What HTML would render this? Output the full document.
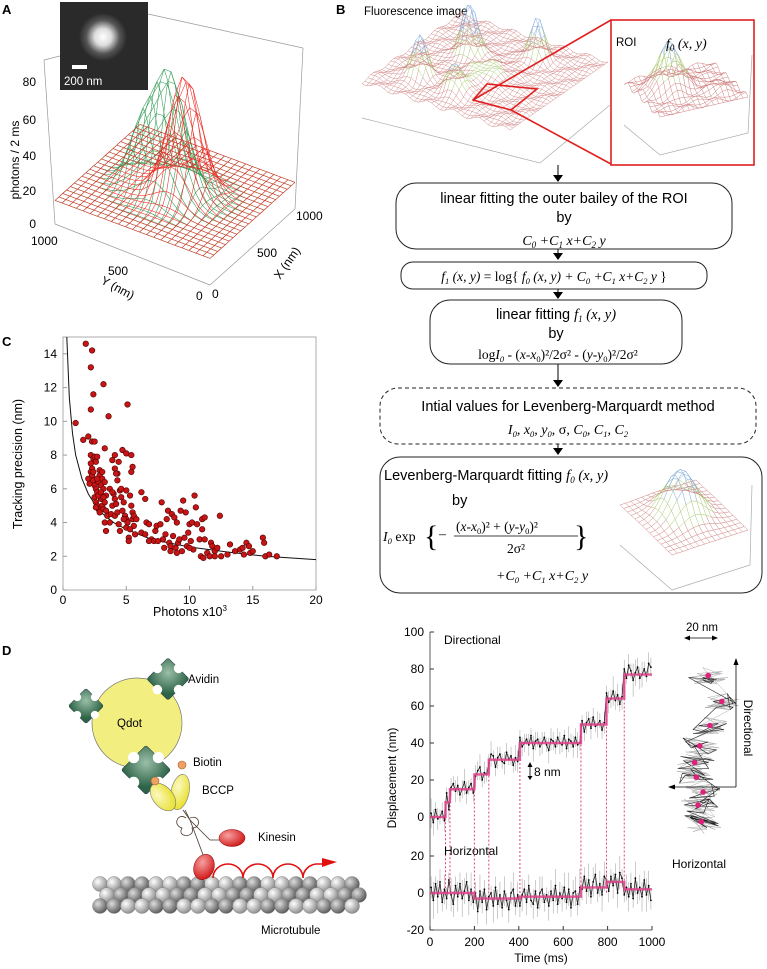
<!DOCTYPE html>
<html><head><meta charset="utf-8">
<style>
html,body{margin:0;padding:0;background:#fff;}
svg{display:block;font-family:"Liberation Sans",sans-serif;}
.serif{font-family:"Liberation Serif",serif;font-style:italic;}
.rm{font-family:"Liberation Serif",serif;}
</style></head>
<body>
<svg id="fig" width="767" height="969" viewBox="0 0 767 969" xmlns="http://www.w3.org/2000/svg">
<!-- ===== Panel A ===== -->
<g id="panelA">
  <text x="2" y="14" font-size="13" font-weight="bold">A</text>
  <g stroke="#999" stroke-width="0.7" fill="none">
    <line x1="44" y1="60" x2="55" y2="224"/>
    <line x1="55" y1="224" x2="210" y2="285"/>
    <line x1="210" y1="285" x2="295" y2="209"/>
    <line x1="303" y1="48" x2="295" y2="209"/>
    <line x1="148" y1="14" x2="303" y2="48"/>
    <line x1="44" y1="60" x2="60" y2="56"/>
  </g>
  <g id="aTicks" stroke="#666" stroke-width="0.7"></g>
  <g id="meshA" fill="none" stroke-width="0.55"></g>
  <g font-size="12" text-anchor="end">
    <text x="36" y="86">80</text><text x="36" y="124">60</text><text x="36" y="160">40</text><text x="36" y="195">20</text><text x="36" y="228">0</text>
  </g>
  <text transform="translate(19,160) rotate(-90)" font-size="12" text-anchor="middle">photons /  2 ms</text>
  <text x="31" y="245" font-size="12">1000</text>
  <text x="108" y="275" font-size="12">500</text>
  <text x="196" y="300" font-size="12">0</text>
  <text x="212" y="298" font-size="12">0</text>
  <text x="257" y="257" font-size="12">500</text>
  <text x="296" y="220" font-size="12">1000</text>
  <text transform="translate(100,283) rotate(28)" font-size="12">Y (nm)</text>
  <text transform="translate(280,280) rotate(-55)" font-size="12">X (nm)</text>
  <g>
    <defs><radialGradient id="spot" cx="0.5" cy="0.5" r="0.5">
      <stop offset="0" stop-color="#fff"/><stop offset="0.35" stop-color="#ddd"/><stop offset="0.7" stop-color="#555"/><stop offset="1" stop-color="#2a2a2a"/></radialGradient></defs>
    <rect x="60" y="2" width="88" height="88" fill="#2a2a2a"/>
    <circle cx="103" cy="37" r="24" fill="url(#spot)"/>
    <rect x="72" y="65" width="15" height="4" fill="#fff"/>
    <text x="64" y="85" font-size="11.5" fill="#fff">200 nm</text>
  </g>
</g>

<!-- ===== Panel B ===== -->
<g id="panelB">
  <text x="336" y="14" font-size="13" font-weight="bold">B</text>
  <text x="364" y="15" font-size="11.5">Fluorescence image</text>
  <polyline points="362,118 540,163 610,105" fill="none" stroke="#aaa" stroke-width="0.7"/>
  <g id="meshB" fill="none" stroke-width="0.45"></g>
  <g stroke="#e02020" stroke-width="1.6" fill="none">
    <polygon points="473,100 487,84 537,89 511,110"/>
    <line x1="473" y1="100" x2="611" y2="20"/>
    <line x1="511" y1="110" x2="611" y2="164"/>
    <rect x="611" y="20" width="143" height="145" fill="#fff"/>
  </g>
  <polyline points="624,125 660,155 748,133 752,55" fill="none" stroke="#aaa" stroke-width="0.7"/>
  <g id="meshROI" fill="none" stroke-width="0.5"></g>
  <text x="616" y="46" font-size="11.5">ROI</text>
  <text x="666" y="48" font-size="14" class="serif">f<tspan font-size="9" dy="3">0</tspan><tspan dy="-3"> (x, y)</tspan></text>

  <g fill="#000">
    <line x1="558" y1="165" x2="558" y2="178" stroke="#000"/><polygon points="553,175 563,175 558,182"/>
    <line x1="558" y1="249" x2="558" y2="255" stroke="#000"/><polygon points="553,253 563,253 558,260"/>
    <line x1="558" y1="289" x2="558" y2="294" stroke="#000"/><polygon points="553,292 563,292 558,299"/>
    <line x1="558" y1="364" x2="558" y2="380" stroke="#000"/><polygon points="553,380 563,380 558,387"/>
    <line x1="558" y1="444" x2="558" y2="448" stroke="#000"/><polygon points="553,448 563,448 558,455"/>
  </g>
  <g fill="none" stroke="#222" stroke-width="1">
    <rect x="396" y="183" width="336" height="66" rx="20"/>
    <rect x="401" y="262" width="306" height="27" rx="12"/>
    <rect x="430" y="300" width="252" height="64" rx="20"/>
    <rect x="380" y="388" width="376" height="56" rx="18" stroke-dasharray="4,3"/>
    <rect x="380" y="457" width="382" height="136" rx="20"/>
  </g>
  <g text-anchor="middle" font-size="14.5">
    <text x="564" y="203">linear fitting  the outer bailey of the ROI</text>
    <text x="564" y="222">by</text>
    <text x="564" y="245" class="serif" font-size="14">C<tspan font-size="9" dy="3">0</tspan><tspan dy="-3"> +C</tspan><tspan font-size="9" dy="3">1</tspan><tspan dy="-3"> x+C</tspan><tspan font-size="9" dy="3">2</tspan><tspan dy="-3"> y</tspan></text>
    <text x="554" y="281" class="serif" font-size="13.5">f<tspan font-size="8.5" dy="3">1</tspan><tspan dy="-3"> (x, y) </tspan><tspan font-style="normal">= log{ </tspan>f<tspan font-size="8.5" dy="3">0</tspan><tspan dy="-3"> (x, y) + C</tspan><tspan font-size="8.5" dy="3">0</tspan><tspan dy="-3"> +C</tspan><tspan font-size="8.5" dy="3">1</tspan><tspan dy="-3"> x+C</tspan><tspan font-size="8.5" dy="3">2</tspan><tspan dy="-3"> y </tspan><tspan font-style="normal">}</tspan></text>
    <text x="556" y="319">linear fitting <tspan class="serif">f</tspan><tspan class="serif" font-size="9" dy="3">1</tspan><tspan class="serif" dy="-3"> (x, y)</tspan></text>
    <text x="556" y="338">by</text>
    <text x="558" y="359" class="rm" font-size="13.5">log<tspan font-style="italic">I</tspan><tspan font-size="8.5" dy="3" font-style="italic">0</tspan><tspan dy="-3"> - (</tspan><tspan font-style="italic">x-x</tspan><tspan font-size="8.5" dy="3">0</tspan><tspan dy="-3">)²/2σ² - (</tspan><tspan font-style="italic">y-y</tspan><tspan font-size="8.5" dy="3">0</tspan><tspan dy="-3">)²/2σ²</tspan></text>
    <text x="568" y="411">Intial values for Levenberg-Marquardt method</text>
    <text x="568" y="434" class="serif" font-size="14">I<tspan font-size="8.5" dy="3">0</tspan><tspan dy="-3">, x</tspan><tspan font-size="8.5" dy="3">0</tspan><tspan dy="-3">, y</tspan><tspan font-size="8.5" dy="3">0</tspan><tspan dy="-3" font-style="normal">, σ, </tspan><tspan dy="0">C</tspan><tspan font-size="8.5" dy="3">0</tspan><tspan dy="-3">, C</tspan><tspan font-size="8.5" dy="3">1</tspan><tspan dy="-3">, C</tspan><tspan font-size="8.5" dy="3">2</tspan></text>
  </g>
  <text x="384" y="480" font-size="14.5">Levenberg-Marquardt fitting <tspan class="serif">f</tspan><tspan class="serif" font-size="9" dy="3">0</tspan><tspan class="serif" dy="-3"> (x, y)</tspan></text>
  <text x="452" y="505" font-size="14.5">by</text>
  <text x="383" y="541" class="rm" font-size="14"><tspan font-style="italic">I</tspan><tspan font-size="8.5" dy="3" font-style="italic">0</tspan><tspan dy="-3"> exp</tspan></text>
  <text x="424" y="546" class="rm" font-size="30" font-weight="normal">{</text>
  <text x="439" y="538" class="rm" font-size="14">–</text>
  <text x="456" y="531" class="rm" font-size="13.5">(<tspan font-style="italic">x-x</tspan><tspan font-size="8.5" dy="3">0</tspan><tspan dy="-3">)² + (</tspan><tspan font-style="italic">y-y</tspan><tspan font-size="8.5" dy="3">0</tspan><tspan dy="-3">)²</tspan></text>
  <line x1="454" y1="536" x2="578" y2="536" stroke="#000" stroke-width="0.8"/>
  <text x="516" y="553" class="rm" font-size="13.5" text-anchor="middle">2σ²</text>
  <text x="574" y="546" class="rm" font-size="30">}</text>
  <text x="496" y="580" class="serif" font-size="14">+C<tspan font-size="8.5" dy="3">0</tspan><tspan dy="-3"> +C</tspan><tspan font-size="8.5" dy="3">1</tspan><tspan dy="-3"> x+C</tspan><tspan font-size="8.5" dy="3">2</tspan><tspan dy="-3"> y</tspan></text>
  <polyline points="620,545 672,590 750,565 752,485" fill="none" stroke="#aaa" stroke-width="0.7"/>
  <g id="meshFit" fill="none" stroke-width="0.5"></g>
</g>

<!-- ===== Panel C ===== -->
<g id="panelC">
  <text x="2" y="346" font-size="13" font-weight="bold">C</text>
  <rect x="63" y="337" width="253" height="253" fill="none" stroke="#999" stroke-width="0.8"/>
  <g id="cAxes" font-size="12"></g>
  <g id="cCurve"></g>
  <g id="cDots"></g>
  <text transform="translate(22,464) rotate(-90)" font-size="12.5" text-anchor="middle">Tracking precision (nm)</text>
  <text x="190" y="616" font-size="12.5" text-anchor="middle">Photons x10<tspan font-size="8" dy="-5">3</tspan></text>
</g>

<!-- ===== Panel D cartoon ===== -->
<g id="panelD">
  <text x="2" y="655" font-size="13" font-weight="bold">D</text>
  <defs>
    <radialGradient id="grn" cx="0.35" cy="0.35" r="0.7"><stop offset="0" stop-color="#9bbfa8"/><stop offset="1" stop-color="#2d6447"/></radialGradient>
    <radialGradient id="ball" cx="0.35" cy="0.35" r="0.7"><stop offset="0" stop-color="#fff"/><stop offset="1" stop-color="#888"/></radialGradient>
    <radialGradient id="ballD" cx="0.35" cy="0.35" r="0.7"><stop offset="0" stop-color="#ddd"/><stop offset="1" stop-color="#555"/></radialGradient>
    <radialGradient id="redg" cx="0.35" cy="0.35" r="0.7"><stop offset="0" stop-color="#f8a0a0"/><stop offset="1" stop-color="#d01818"/></radialGradient>
    <radialGradient id="yel" cx="0.35" cy="0.35" r="0.7"><stop offset="0" stop-color="#fbf9c0"/><stop offset="1" stop-color="#e8e030"/></radialGradient>
  </defs>
  <g id="mt"></g>
  <circle cx="137" cy="723" r="45" fill="#f2ef80" stroke="#777" stroke-width="0.7"/>
  <g id="avidins"></g>
  <ellipse cx="180" cy="792" rx="9" ry="18" transform="rotate(12 180 792)" fill="url(#yel)" stroke="#777" stroke-width="0.6"/>
  <ellipse cx="163" cy="797" rx="10" ry="16" transform="rotate(-40 163 797)" fill="url(#yel)" stroke="#777" stroke-width="0.6"/>
  <circle cx="182" cy="765" r="4" fill="#f0a060" stroke="#a0603a" stroke-width="0.6"/>
  <circle cx="155" cy="781" r="4" fill="#f0a060" stroke="#a0603a" stroke-width="0.6"/>
  <g fill="none" stroke="#4a3a30" stroke-width="0.8">
    <path d="M185,810 L190,820 L210,840 L222,840"/>
    <path d="M183,810 L190,820 L205,860"/>
    <path d="M186,818 C178,812 172,825 182,828 C176,838 196,838 192,828 C202,828 200,814 190,818"/>
  </g>
  <ellipse cx="232" cy="838" rx="13" ry="8.5" fill="url(#redg)" stroke="#800" stroke-width="0.5"/>
  <ellipse cx="204" cy="867" rx="10" ry="13" transform="rotate(20 204 867)" fill="url(#redg)" stroke="#800" stroke-width="0.5"/>
  <path d="M213,878 A15,14 0 0 1 243,878 A15,14 0 0 1 273,878 A15,14 0 0 1 303,878 A15,14 0 0 1 316,864 L325,864" fill="none" stroke="#e01010" stroke-width="1.6"/>
  <polygon points="322,858 337,862 322,867" fill="#e01010"/>
  <g font-size="11.5">
    <text x="188" y="683">Avidin</text>
    <text x="117" y="727">Qdot</text>
    <text x="193" y="766">Biotin</text>
    <text x="202" y="794">BCCP</text>
    <text x="258" y="841">Kinesin</text>
    <text x="261" y="934">Microtubule</text>
  </g>
</g>

<!-- ===== Panel D trace ===== -->
<g id="panelTrace">
  <g id="tAxes" font-size="12"></g>
  <g id="tDots"></g>
  <g id="tSteps"></g>
  <text transform="translate(396,778) rotate(-90)" font-size="12" text-anchor="middle">Displacement (nm)</text>
  <text x="541" y="962" font-size="12" text-anchor="middle">Time (ms)</text>
  <text x="444" y="644" font-size="12">Directional</text>
  <text x="444" y="855" font-size="12">Horizontal</text>
  <g>
    <line x1="530" y1="766" x2="530" y2="776" stroke="#000" stroke-width="0.8"/>
    <polygon points="527.5,767 532.5,767 530,762" /><polygon points="527.5,776 532.5,776 530,780"/>
    <text x="534" y="776" font-size="12">8 nm</text>
  </g>
  <g id="traj"></g>
  <text x="686" y="631" font-size="11.5">20 nm</text>
  <g stroke="#000" stroke-width="0.8">
    <line x1="687" y1="638" x2="715" y2="638"/>
    <line x1="736" y1="787" x2="672" y2="787"/>
    <line x1="736" y1="787" x2="736" y2="663"/>
  </g>
  <polygon points="684,638 690,635.5 690,640.5"/><polygon points="718,638 712,635.5 712,640.5"/>
  <polygon points="668,787 675,784.5 675,789.5"/><polygon points="736,658 733.5,665 738.5,665"/>
  <text transform="translate(744,728) rotate(90)" font-size="12" text-anchor="middle">Directional</text>
  <text x="672" y="868" font-size="12">Horizontal</text>
</g>
</svg>

<script>
// ---------- Panel C data ----------
const photonsK = [1.8,2.3,2.2,3.2,2.4,5.1,2.2,3.6,1.0,1.6,2.0,2.3,2.5,3.3,4.7,5.0,5.4,4.1,4.4,3.9,5.5,5.4,4.1,4.3,4.3,
2.0,2.1,2.2,2.2,2.3,2.2,2.4,2.5,2.6,2.7,2.3,2.4,2.5,2.6,2.7,2.8,2.9,3.0,3.1,3.2,3.3,3.4,2.5,2.6,2.7,2.8,2.9,3.0,3.1,3.2,3.3,3.4,3.5,2.6,2.8,3.0,3.2,2.4,2.9,3.1,2.7,3.3,3.4,
3.7,3.8,3.9,4.0,4.1,4.2,4.3,4.4,4.5,4.5,4.6,4.7,4.8,4.9,5.0,5.0,5.1,5.2,5.2,5.3,5.4,5.5,5.5,5.6,5.6,5.7,5.8,4.2,4.6,3.7,3.9,4.1,4.8,5.0,5.3,
6.2,6.5,6.2,6.5,6.6,6.8,7.0,7.2,7.3,7.4,7.7,7.8,7.9,8.0,8.1,8.2,8.3,8.4,8.5,8.6,8.7,8.8,8.9,9.0,9.1,9.2,9.3,9.4,9.5,9.6,9.7,9.8,9.9,10.0,10.1,10.2,10.3,10.4,10.5,10.6,10.8,10.9,11.0,11.0,11.1,11.2,11.2,11.4,11.6,11.7,11.8,12.0,12.2,12.4,
12.5,13.0,13.2,13.6,14.0,14.2,14.3,14.5,14.7,14.8,15.0,15.8,15.9,16.0,16.3,16.9,12.0,8.5,9.0,7.5,10.0,6.8];
const precisionNm = [14.6,14.2,13.2,12.2,11.6,11.0,10.7,10.3,9.9,8.9,9.1,8.8,8.8,8.4,8.3,8.1,8.0,8.0,7.6,7.7,7.3,7.0,7.2,6.9,6.5,
6.6,6.3,8.0,7.5,7.2,7.0,7.8,7.9,7.6,7.9,6.8,6.5,6.2,6.0,5.8,6.4,6.8,6.2,6.6,6.0,6.4,5.6,5.5,5.2,5.0,4.8,4.6,5.4,5.0,4.8,5.2,4.7,4.4,4.9,5.6,5.8,5.5,7.0,7.1,7.0,6.6,4.0,3.5,
4.0,4.5,5.0,5.7,4.4,5.1,4.6,3.9,3.5,5.9,5.5,4.7,5.2,4.4,5.9,4.2,4.0,3.1,2.9,5.6,5.0,4.6,4.2,3.8,4.4,3.3,4.2,6.9,6.0,6.0,5.8,5.4,4.2,3.7,3.6,
5.8,5.4,3.4,3.3,4.0,3.9,3.0,2.9,3.5,3.8,3.9,5.2,3.0,2.5,3.3,4.2,4.7,2.8,2.6,4.5,3.2,4.3,2.5,4.0,2.8,3.0,4.7,2.3,5.3,3.1,4.6,2.6,3.4,3.9,2.9,4.0,2.4,5.6,4.9,3.9,3.0,2.0,4.2,3.6,1.9,4.3,3.0,2.2,2.0,2.8,2.6,2.3,2.5,4.4,
2.0,2.1,2.7,2.3,2.4,2.5,2.1,2.8,2.6,2.2,2.3,3.1,2.8,2.0,2.1,2.0,2.0,2.3,2.2,2.9,2.5,2.9];
const fitX = [0.3,0.5,0.75,1.0,1.5,2.0,2.5,3.0,4.0,5.0,7.0,10.0,13.0,16.0,20.0];
const fitY = [15.0,11.4,9.3,8.0,6.6,5.7,5.1,4.6,4.0,3.6,3.0,2.55,2.25,2.0,1.8];
const cXTicks = [0,5,10,15,20];
const cYTicks = [0,2,4,6,8,10,12,14];

// ---------- Trace data ----------
const stepTimes = [0,70,90,200,265,405,680,795,875,1000];
const dirLevels = [0,8,15,23,31,40,50,64,77];
const horLevels = [0,0,0,-3,-3,-2,3,6,2];
const dirNoise = [2,-3,4,-1,0,3,-2,5,-4,1,3,-1,2,-3,0,4,-2,1,3,-2,-1,2,4,-3,1,0,-2,3,2,-4,1,3,-1,-2,4,0,2,-3,1,-1,3,-2,0,2,-1,4,-3,1,2,-2,0,3,-1,-4,2,1,-2,3,0,-1,4,-3,2,1,-2,3,-1,0,2,-4,1,3,-2,4,-1,0,2,-3,1,3,-2,0,4,-1,2,-3,1,3,-2,5,2,-3,1,4,-2,0,3,-1,6,4];
const horNoise = [3,-4,5,-2,6,-5,2,-3,7,-1,-6,4,-2,5,-3,1,6,-4,2,-5,3,-7,4,-2,5,-6,1,3,-4,6,-3,2,-5,4,-1,-6,3,5,-4,2,-5,1,4,-3,6,-2,-4,3,-6,2,4,-3,1,-5,3,-2,6,-4,2,-1,5,-3,4,-6,2,3,-4,5,-1,6,-2,4,-5,3,7,-3,2,-4,6,1,-5,3,-2,4,-6,5,2,-3,1,-4,3,-5,6,-2,1,-4,5,-3,2,-6];
const tXTicks = [0,200,400,600,800,1000];
const dirYTicks = [0,20,40,60,80,100];
const horYTicks = [-20,0,20];
const trajDwellX = [6,14,7,1,-2,-1,3,0,2];
const trajDwellY = [77,63,50,39,30,22,14,7,-2];

const NS = "http://www.w3.org/2000/svg";
function mk(tag, attrs, parent){ const e=document.createElementNS(NS,tag); for(const k in attrs) e.setAttribute(k,attrs[k]); parent.appendChild(e); return e; }

// ---------- Panel C ----------
const cx = v => 63 + v/20*253;
const cy = v => 590 - v/15*253;
(function(){
  const ax = document.getElementById('cAxes');
  cXTicks.forEach(t=>{
    const l=mk('line',{x1:cx(t),x2:cx(t),y1:590,y2:586,stroke:'#999'},ax);
    
    
    const tx=mk('text',{x:cx(t),y:604,'text-anchor':'middle'},ax); tx.textContent=t;
    
    
  });
  cYTicks.forEach(t=>{
    const l=mk('line',{x1:63,x2:67,y1:cy(t),y2:cy(t),stroke:'#999'},ax);
    
    
    const tx=mk('text',{x:57,y:cy(t)+4,'text-anchor':'end'},ax); tx.textContent=t;
    
    
  });
  const pts = fitX.map((x,i)=>cx(x)+','+cy(fitY[i])).join(' ');
  const pl = mk('polyline',{points:pts,fill:'none',stroke:'#111','stroke-width':1},document.getElementById('cCurve'));
  
  
  const dg = document.getElementById('cDots');
  photonsK.forEach((x,i)=>{
    const c=mk('circle',{cx:cx(x),cy:cy(precisionNm[i]),r:2.8,fill:'#c81414',stroke:'#4a0000','stroke-width':0.6},dg);
    
    
  });
})();

// ---------- Trace ----------
const tx = t => 430 + t/1000*222;
const tyD = v => 817 - v*1.85;
const tyH = v => 893 - v*1.85;
function levelAt(levels,t){ let k=0; for(let i=0;i<stepTimes.length-1;i++){ if(t>=stepTimes[i]) k=i; } return levels[k]; }
(function(){
  const ax = document.getElementById('tAxes');
  mk('line',{x1:430,x2:430,y1:632,y2:930,stroke:'#333','stroke-width':0.8},ax);
  mk('line',{x1:430,x2:652,y1:930,y2:930,stroke:'#333','stroke-width':0.8},ax);
  tXTicks.forEach(t=>{
    const l=mk('line',{x1:tx(t),x2:tx(t),y1:930,y2:926,stroke:'#333'},ax);
    
    
    const s=mk('text',{x:tx(t),y:946,'text-anchor':'middle'},ax); s.textContent=t;
    
    
  });
  dirYTicks.forEach(t=>{
    const l=mk('line',{x1:430,x2:434,y1:tyD(t),y2:tyD(t),stroke:'#333'},ax);
    
    
    const s=mk('text',{x:424,y:tyD(t)+4,'text-anchor':'end'},ax); s.textContent=t;
    
    
  });
  horYTicks.forEach(t=>{
    const l=mk('line',{x1:430,x2:434,y1:tyH(t),y2:tyH(t),stroke:'#333'},ax);
    
    
    const s=mk('text',{x:424,y:tyH(t)+4,'text-anchor':'end'},ax); s.textContent=t;
    
    
  });
  const dg=document.getElementById('tDots');
  [[dirLevels,dirNoise,tyD,'directional'],[horLevels,horNoise,tyH,'horizontal']].forEach(([lv,nz,fy,nm])=>{
    let pts=[];
    nz.forEach((n,i)=>{
      const t=i*10+5, v=levelAt(lv,t)+n;
      const e=Math.abs(nz[(i+7)%nz.length])+3;
      mk('line',{x1:tx(t),x2:tx(t),y1:fy(v-e),y2:fy(v+e),stroke:'#aaa','stroke-width':0.6},dg);
      pts.push(tx(t)+','+fy(v));
    });
    const pl=mk('polyline',{points:pts.join(' '),fill:'none',stroke:'#222','stroke-width':0.8},dg);
    
    
    pts.forEach(p=>{const [a,b]=p.split(','); mk('circle',{cx:a,cy:b,r:0.9,fill:'#000'},dg);});
  });
  const sg=document.getElementById('tSteps');
  [[dirLevels,tyD,'directional-step-fit'],[horLevels,tyH,'horizontal-step-fit']].forEach(([lv,fy,nm])=>{
    let d='';
    for(let i=0;i<lv.length;i++){
      d += (i===0?'M':'L')+tx(stepTimes[i])+','+fy(lv[i])+' L'+tx(stepTimes[i+1])+','+fy(lv[i]);
    }
    const p=mk('path',{d:d,fill:'none',stroke:'#e0408a','stroke-width':2.4,opacity:0.85},sg);
    
    
  });
  for(let i=1;i<stepTimes.length-1;i++){
    const l=mk('line',{x1:tx(stepTimes[i]),x2:tx(stepTimes[i]),y1:tyD(dirLevels[i]),y2:tyH(0),stroke:'#e0408a','stroke-width':1,'stroke-dasharray':'2,2'},sg);
    
    
  }
  // trajectory
  const tg=document.getElementById('traj');
  const trX = v=>698+v*1.7, trY = v=>818-v*1.85;
  let path=[];
  trajDwellX.forEach((x,i)=>{
    for(let k=0;k<24;k++){
      const n1=horNoise[(i*24+k)%horNoise.length], n2=dirNoise[(i*24+k*3)%dirNoise.length];
      path.push((trX(x)+n1*2.8).toFixed(1)+','+(trY(trajDwellY[i])+n2*2.0).toFixed(1));
    }
  });
  mk('polyline',{points:path.join(' '),fill:'none',stroke:'#aaa','stroke-width':0.5},tg);
  mk('polyline',{points:path.filter((p,i)=>i%3==0).join(' '),fill:'none',stroke:'#222','stroke-width':0.6},tg);
  trajDwellX.forEach((x,i)=>{
    const c=mk('circle',{cx:trX(x),cy:trY(trajDwellY[i]),r:2.8,fill:'#e0207a'},tg);
    
    
  });
})();

// ---------- 3D meshes (illustrative surfaces) ----------
function mesh(g, F, L, R, n, hfun, colfun){
  const P=(u,v)=>{const h=hfun(u,v); return [F[0]+u*(L[0]-F[0])+v*(R[0]-F[0]), F[1]+u*(L[1]-F[1])+v*(R[1]-F[1])-h, h];};
  for(let dir=0;dir<2;dir++){
    for(let i=0;i<=n;i++){
      for(let j=0;j<n;j++){
        const a = dir? P(i/n,j/n):P(j/n,i/n);
        const b = dir? P(i/n,(j+1)/n):P((j+1)/n,i/n);
        mk('line',{x1:a[0].toFixed(1),y1:a[1].toFixed(1),x2:b[0].toFixed(1),y2:b[1].toFixed(1),stroke:colfun((a[2]+b[2])/2)},g);
      }
    }
  }
}
const gs=(u,v,u0,v0,s)=>Math.exp(-((u-u0)**2+(v-v0)**2)/(2*s*s));
const hpx=1.775;
mesh(document.getElementById('meshA'),[210,285],[55,227],[295,209],22,
  (u,v)=>(15+70*gs(u,v,0.517,0.448,0.1)+26*gs(u,v,0.70,0.45,0.07))*hpx, ()=>'#2e9a52');
mesh(document.getElementById('meshA'),[210,285],[55,227],[295,209],22,
  (u,v)=>(15+67*gs(u,v,0.439,0.507,0.095))*hpx, ()=>'#ec2a22');
const colH=(lo,hi)=>h=>h<lo?'#d08080':(h<hi?'#a8c870':'#7aa6d8');
mesh(document.getElementById('meshB'),[510,148],[362,100],[608,80],34,
  (u,v)=>18+2.5*Math.sin(u*37)*Math.cos(v*29)+53*gs(u,v,0.67,0.6,0.05)+43*gs(u,v,0.77,0.24,0.045)+43*gs(u,v,0.34,0.79,0.045)+28*gs(u,v,0.5,0.2,0.05)+12*gs(u,v,0.45,0.45,0.12),
  colH(27,42));
mesh(document.getElementById('meshROI'),[660,135],[624,100],[748,115],18,
  (u,v)=>18+3*Math.sin(u*23)*Math.cos(v*19)+45*gs(u,v,0.6,0.35,0.13)+8*gs(u,v,0.3,0.8,0.1),
  colH(33,52));
mesh(document.getElementById('meshFit'),[672,570],[620,520],[748,545],14,
  (u,v)=>15+45*gs(u,v,0.55,0.5,0.17), colH(22,40));

// ---------- Panel D cartoon pieces ----------
(function(){
  const mt=document.getElementById('mt');
  for(let r=0;r<3;r++){
    for(let k=0;k<19;k++){
      const x=100+k*14+(r%2)*7, y=884+r*11;
      mk('circle',{cx:x,cy:y,r:7.5,fill:(Math.floor((k+r)/2)%2?'url(#ballD)':'url(#ball)'),stroke:'#777','stroke-width':0.4},mt);
    }
  }
  const av=document.getElementById('avidins');
  [[168,679,30],[86,706,25],[146,770,35]].forEach(([x,y,s],i)=>{
    const g=mk('g',{transform:`translate(${x},${y}) rotate(45)`},av);
    
    
    mk('rect',{x:-s/2,y:-s/2,width:s,height:s,rx:2,fill:'url(#grn)',stroke:'#234','stroke-width':0.5},g);
    [[-s/2,0],[s/2,0],[0,-s/2],[0,s/2]].forEach(([a,b])=>mk('circle',{cx:a,cy:b,r:s*0.16,fill:'#fff'},g));
  });
})();
</script>
</body></html>
